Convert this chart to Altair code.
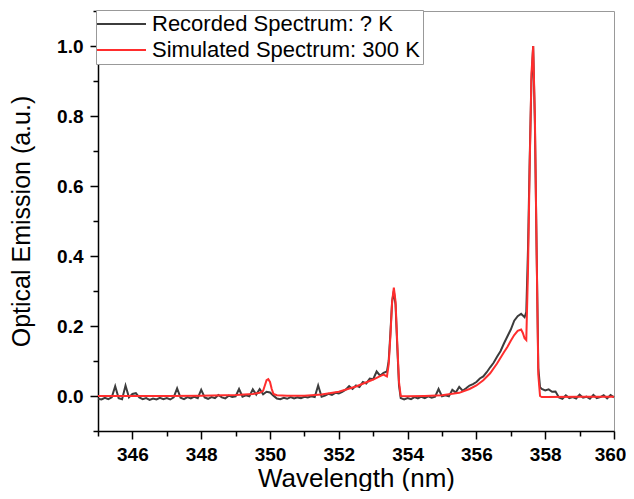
import altair as alt
import pandas as pd

series_names = ["Recorded Spectrum: ? K", "Simulated Spectrum: 300 K"]
series_colors = ["#3c3c3c", "#ff2d2d"]

rec_wl = [345.0, 345.1, 345.2, 345.3, 345.4, 345.5, 345.6, 345.7, 345.8, 345.9,
          346.0, 346.1, 346.2, 346.3, 346.4, 346.5, 346.6, 346.7, 346.8, 346.9,
          347.0, 347.1, 347.2, 347.3, 347.4, 347.5, 347.6, 347.7, 347.8, 347.9,
          348.0, 348.1, 348.2, 348.3, 348.4, 348.5, 348.6, 348.7, 348.8, 348.9,
          349.0, 349.1, 349.2, 349.3, 349.4, 349.5, 349.6, 349.7, 349.8, 349.9,
          350.0, 350.1, 350.2, 350.3, 350.4, 350.5, 350.6, 350.7, 350.8, 350.9,
          351.0, 351.1, 351.2, 351.3, 351.4, 351.5, 351.6, 351.7, 351.8, 351.9,
          352.0, 352.1, 352.2, 352.3, 352.4, 352.5, 352.6, 352.7, 352.8, 352.9,
          353.0, 353.1, 353.2, 353.3, 353.4, 353.45, 353.5, 353.55, 353.6, 353.65,
          353.7, 353.75, 353.8, 353.9,
          354.0, 354.1, 354.2, 354.3, 354.4, 354.5, 354.6, 354.7, 354.8, 354.9,
          355.0, 355.1, 355.2, 355.3, 355.4, 355.5, 355.6, 355.7, 355.8, 355.9,
          356.0, 356.1, 356.2, 356.3, 356.4, 356.5, 356.6, 356.7, 356.8, 356.9,
          357.0, 357.1, 357.2, 357.3, 357.4, 357.45, 357.5, 357.55, 357.6, 357.65,
          357.7, 357.75, 357.8, 357.85, 357.9,
          358.0, 358.1, 358.2, 358.3, 358.4, 358.5, 358.6, 358.7, 358.8, 358.9,
          359.0, 359.1, 359.2, 359.3, 359.4, 359.5, 359.6, 359.7, 359.8, 359.9,
          360.0]
rec_int = [-0.008, -0.010, -0.005, -0.009, -0.004, 0.028, -0.006, -0.009, 0.030, -0.004,
           0.006, 0.008, -0.004, -0.009, -0.006, -0.011, -0.007, -0.010, -0.005, -0.009,
           -0.006, -0.010, -0.004, 0.022, -0.005, -0.009, -0.003, -0.007, -0.002, -0.006,
           0.018, -0.004, -0.008, -0.003, -0.006, 0.003, -0.004, -0.007, 0.001, -0.003,
           -0.001, 0.020, -0.002, 0.002, -0.001, 0.019, 0.004, 0.020, 0.005, 0.012,
           0.010, 0.001, -0.007, -0.009, -0.005, -0.008, -0.003, -0.007, -0.004, -0.006,
           -0.002, -0.004, -0.001, -0.003, 0.030, -0.002, 0.001, 0.006, 0.003, 0.009,
           0.007, 0.012, 0.018, 0.028, 0.020, 0.030, 0.026, 0.040, 0.036, 0.050,
           0.048, 0.070, 0.058, 0.066, 0.070, 0.100, 0.180, 0.270, 0.300, 0.260,
           0.140, 0.030, -0.006, -0.010,
           -0.006, -0.009, -0.003, -0.007, -0.002, -0.006, -0.001, -0.005, -0.002, 0.020,
           -0.001, 0.002, -0.001, 0.018, 0.010, 0.026, 0.015, 0.022, 0.030, 0.034,
           0.040, 0.050, 0.056, 0.068, 0.082, 0.095, 0.112, 0.128, 0.150, 0.170,
           0.190, 0.215, 0.228, 0.235, 0.225, 0.240, 0.420, 0.680, 0.900, 1.000,
           0.780, 0.420, 0.080, 0.025, 0.020,
           0.016, 0.019, 0.012, 0.013, -0.004, -0.008, 0.002, -0.006, -0.003, -0.007,
           0.004, -0.005, -0.002, -0.008, 0.003, -0.006, -0.003, 0.002, -0.007, 0.003,
           -0.004]

sim_wl = [345.0, 346.0, 347.0, 348.0, 349.0, 349.5, 349.7, 349.8, 349.85, 349.9,
          349.95, 350.0, 350.05, 350.1, 350.2, 350.5, 351.0, 351.5, 352.0, 352.5,
          353.0, 353.2, 353.3, 353.4, 353.45, 353.5, 353.55, 353.6, 353.65, 353.7,
          353.75, 353.8, 354.0, 354.5, 355.0, 355.5, 355.8, 356.0, 356.2, 356.4,
          356.6, 356.8, 356.9, 357.0, 357.1, 357.2, 357.3, 357.35, 357.4, 357.45,
          357.5, 357.55, 357.6, 357.65, 357.7, 357.75, 357.8, 357.85, 357.9, 358.0,
          359.0, 360.0]
sim_int = [0.000, 0.000, 0.000, 0.001, 0.003, 0.006, 0.009, 0.015, 0.030, 0.045,
           0.048, 0.040, 0.020, 0.006, 0.002, 0.001, 0.001, 0.004, 0.012, 0.027,
           0.047, 0.057, 0.061, 0.056, 0.090, 0.170, 0.270, 0.310, 0.270, 0.150,
           0.040, 0.000, -0.001, 0.000, 0.002, 0.009, 0.020, 0.030, 0.045, 0.065,
           0.093, 0.125, 0.140, 0.158, 0.174, 0.186, 0.190, 0.180, 0.165, 0.160,
           0.360, 0.660, 0.920, 1.000, 0.800, 0.420, 0.060, 0.000, -0.003, -0.003,
           -0.002, -0.002]

x_tick_values = [345, 346, 347, 348, 349, 350, 351, 352, 353, 354, 355, 356, 357, 358, 359, 360]
y_tick_values = [-0.1, 0.0, 0.1, 0.2, 0.3, 0.4, 0.5, 0.6, 0.7, 0.8, 0.9, 1.0, 1.1]

df_rec = pd.DataFrame({"wl": rec_wl, "val": rec_int, "series": series_names[0]})
df_sim = pd.DataFrame({"wl": sim_wl, "val": sim_int, "series": series_names[1]})

FONT = "Liberation Sans"

x_enc = alt.X(
    "wl:Q",
    scale=alt.Scale(domain=[345, 360], nice=False, zero=False),
    axis=alt.Axis(
        title="Wavelength (nm)",
        values=x_tick_values,
        labelExpr="datum.value % 2 === 0 ? datum.label : ''",
        tickSize={"condition": {"test": "datum.value % 2 === 0", "value": 8}, "value": 5},
        labelOffset={"condition": {"test": "datum.value === 360", "value": -4}, "value": 0},
        labelOverlap=False,
        labelFlush=False,
        labelPadding=6,
        titlePadding=1,
        titleFontSize=26,
    ),
)
y_enc = alt.Y(
    "val:Q",
    scale=alt.Scale(domain=[-0.1, 1.1], nice=False, zero=False),
    axis=alt.Axis(
        title="Optical Emission (a.u.)",
        values=y_tick_values,
        labelExpr="round(datum.value*10) % 2 === 0 ? format(datum.value, '.1f') : ''",
        tickSize={"condition": {"test": "round(datum.value*10) % 2 === 0", "value": 8}, "value": 5},
        labelOverlap=False,
        labelFlush=False,
        labelPadding=7,
        titlePadding=22,
        titleFontSize=25,
    ),
)
color_enc = alt.Color(
    "series:N",
    scale=alt.Scale(domain=series_names, range=series_colors),
    legend=alt.Legend(
        title=None,
        orient="none",
        legendX=-2,
        legendY=-1,
        fillColor="white",
        strokeColor="#999999",
        padding=3,
        rowPadding=4,
        symbolType="M-1.3,0H3.6",
        symbolSize=400,
        symbolStrokeWidth=2,
        labelOffset=31,
        labelFont=FONT,
        labelFontSize=22,
        labelColor="black",
        labelLimit=0,
    ),
)

rec = alt.Chart(df_rec).mark_line(strokeWidth=2).encode(x=x_enc, y=y_enc, color=color_enc)
sim = alt.Chart(df_sim).mark_line(strokeWidth=2).encode(x=x_enc, y=y_enc, color=color_enc)

chart = (
    alt.layer(rec, sim)
    .properties(
        width=516,
        height=420,
        autosize=alt.AutoSizeParams(type="none"),
        padding={"left": 90, "top": 3, "right": 12, "bottom": 60},
    )
    .configure_view(stroke="#999999", strokeWidth=1)
    .configure_axis(
        grid=False,
        domainColor="black",
        domainWidth=1.5,
        tickColor="black",
        tickWidth=1.5,
        labelFont=FONT,
        labelFontSize=19,
        labelFontWeight="bold",
        labelColor="black",
        titleFont=FONT,
        titleFontWeight="normal",
        titleColor="black",
    )
)

chart.save("out.html", embed_options={"renderer": "svg", "actions": False})
